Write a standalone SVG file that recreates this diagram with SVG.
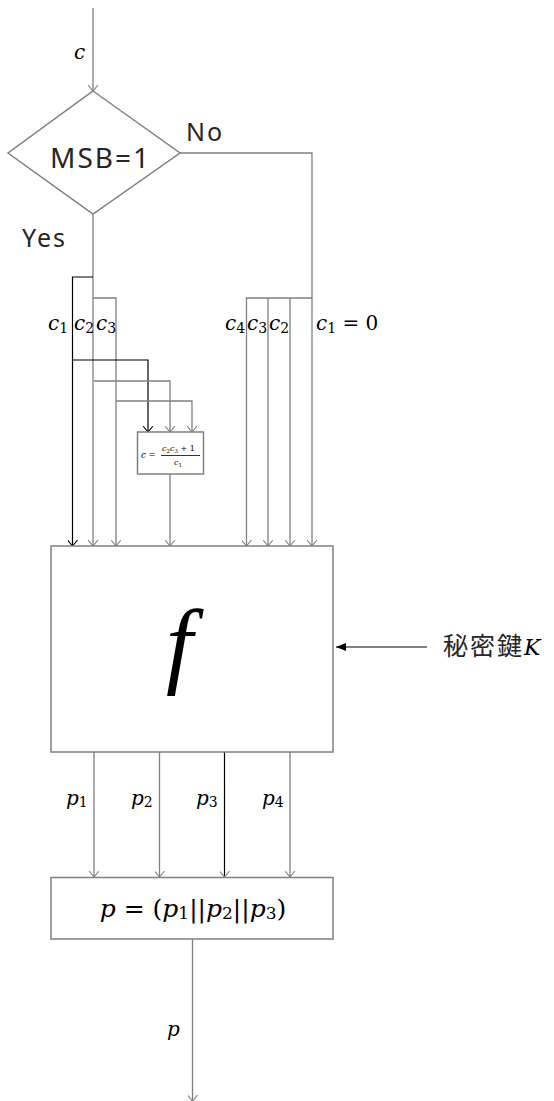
<svg xmlns="http://www.w3.org/2000/svg" width="554" height="1101" viewBox="0 0 554 1101">
<style>
.g{stroke:#808080;stroke-width:1.3;fill:none}
.k{stroke:#000;stroke-width:1.2;fill:none}
.box{stroke:#808080;stroke-width:1.5;fill:#fff}
.sans{font-family:"Noto Sans","Liberation Sans",sans-serif;fill:#262626;letter-spacing:2px}
.m{font-family:"DejaVu Serif","Liberation Serif",serif;font-style:italic;fill:#000}
.f{font-family:"Liberation Serif","DejaVu Serif",serif;font-style:italic;fill:#000}
.sub{font-style:normal}
.cjk{font-family:"Noto Sans CJK JP","Noto Sans CJK SC",sans-serif;fill:#262626}
</style>
<defs>
<marker id="av" viewBox="0 0 6 10" refX="6" refY="5" markerWidth="6" markerHeight="10" markerUnits="userSpaceOnUse" orient="auto">
<path d="M0,0 L6,5 L0,10" fill="none" stroke="#808080" stroke-width="1.1"/>
</marker>
<marker id="avk" viewBox="0 0 6 10" refX="6" refY="5" markerWidth="6" markerHeight="10" markerUnits="userSpaceOnUse" orient="auto">
<path d="M0,0 L6,5 L0,10" fill="none" stroke="#000" stroke-width="1.1"/>
</marker>
<marker id="af" viewBox="0 0 10 8" refX="10" refY="4" markerWidth="10" markerHeight="8" markerUnits="userSpaceOnUse" orient="auto">
<path d="M0,0 L10,4 L0,8 Z" fill="#000"/>
</marker>
</defs>

<g id="connectors">
<line class="g" x1="93" y1="8" x2="93" y2="91" marker-end="url(#av)"/>
<line class="g" x1="93" y1="214" x2="93" y2="546" marker-end="url(#av)"/>
<polyline class="k" points="93,277 72.5,277 72.5,546" marker-end="url(#avk)"/>
<polyline class="g" points="93,298 116,298 116,546" marker-end="url(#av)"/>
<polyline class="k" points="72.5,360 148,360 148,432" marker-end="url(#avk)"/>
<polyline class="g" points="94,381 170,381 170,432" marker-end="url(#av)"/>
<polyline class="g" points="116,401 192,401 192,432" marker-end="url(#av)"/>
<line class="g" x1="170" y1="474" x2="170" y2="546" marker-end="url(#av)"/>
<polyline class="g" points="180,153 312,153 312,546" marker-end="url(#av)"/>
<polyline class="g" points="312,298 246.5,298 246.5,546" marker-end="url(#av)"/>
<line class="g" x1="268" y1="298" x2="268" y2="546" marker-end="url(#av)"/>
<line class="g" x1="290" y1="298" x2="290" y2="546" marker-end="url(#av)"/>
<line class="k" x1="427" y1="647" x2="336" y2="647" marker-end="url(#af)"/>
<line class="g" x1="94" y1="752" x2="94" y2="877" marker-end="url(#av)"/>
<line class="g" x1="159.5" y1="752" x2="159.5" y2="877" marker-end="url(#av)"/>
<line class="k" x1="224.5" y1="752" x2="224.5" y2="877" marker-end="url(#av)"/>
<line class="g" x1="290" y1="752" x2="290" y2="877" marker-end="url(#av)"/>
<line class="g" x1="192.5" y1="939" x2="192.5" y2="1101" marker-end="url(#av)"/>
</g>

<g id="label-c"><text class="m" x="74" y="59" font-size="20">c</text></g>

<g id="decision">
<polygon class="box" points="93,91 180,153 93,214 8,153"/>
<text class="sans" x="50" y="168" font-size="28">MSB=1</text>
</g>
<g id="label-no"><text class="sans" x="186" y="141" font-size="25">No</text></g>
<g id="label-yes"><text class="sans" x="22" y="247" font-size="25">Yes</text></g>

<g id="labels-c-left">
<text class="m" x="48" y="330" font-size="20">c<tspan class="sub" font-size="14" dy="3">1</tspan></text>
<text class="m" x="74" y="330" font-size="20">c<tspan class="sub" font-size="14" dy="3">2</tspan></text>
<text class="m" x="96" y="330" font-size="20">c<tspan class="sub" font-size="14" dy="3">3</tspan></text>
</g>
<g id="labels-c-right">
<text class="m" x="225" y="330" font-size="20">c<tspan class="sub" font-size="14" dy="3">4</tspan></text>
<text class="m" x="247" y="330" font-size="20">c<tspan class="sub" font-size="14" dy="3">3</tspan></text>
<text class="m" x="269" y="330" font-size="20">c<tspan class="sub" font-size="14" dy="3">2</tspan></text>
<text class="m" x="316" y="330" font-size="20">c<tspan class="sub" font-size="14" dy="3">1</tspan><tspan class="sub" dy="-3" font-size="20"> = 0</tspan></text>
</g>

<g id="formula-box">
<rect class="box" x="137.5" y="432" width="66" height="42"/>
<text class="m" x="141" y="458" font-size="8.5">c <tspan class="sub">=</tspan></text>
<text class="m" x="162" y="451" font-size="8" fill="#555">c<tspan class="sub" font-size="5.5" dy="1.5">2</tspan><tspan dy="-1.5">c</tspan><tspan class="sub" font-size="5.5" dy="1.5">3</tspan><tspan class="sub" dy="-1.5"> + 1</tspan></text>
<line x1="161" y1="455.5" x2="200" y2="455.5" stroke="#000" stroke-width="0.8"/>
<text class="m" x="174" y="465" font-size="8" fill="#555">c<tspan class="sub" font-size="5.5" dy="1.5">1</tspan></text>
</g>

<g id="f-box">
<rect class="box" x="51" y="546" width="282" height="206"/>
<text class="f" x="166" y="676" font-size="96">f</text>
</g>

<g id="key-label"><text class="cjk" x="443" y="655" font-size="25" letter-spacing="2">秘密鍵<tspan class="m" font-size="22" letter-spacing="0">K</tspan></text></g>

<g id="labels-p">
<text class="m" x="66" y="805" font-size="20">p<tspan class="sub" font-size="14" dy="2">1</tspan></text>
<text class="m" x="131" y="805" font-size="20">p<tspan class="sub" font-size="14" dy="2">2</tspan></text>
<text class="m" x="196" y="805" font-size="20">p<tspan class="sub" font-size="14" dy="2">3</tspan></text>
<text class="m" x="262" y="805" font-size="20">p<tspan class="sub" font-size="14" dy="2">4</tspan></text>
</g>

<g id="concat-box">
<rect class="box" x="51" y="877.5" width="282" height="61.5"/>
<text class="m" x="193" y="917" font-size="25" text-anchor="middle">p<tspan class="sub"> = (</tspan>p<tspan class="sub" font-size="17" dy="2">1</tspan><tspan class="sub" dy="-2">||</tspan>p<tspan class="sub" font-size="17" dy="2">2</tspan><tspan class="sub" dy="-2">||</tspan>p<tspan class="sub" font-size="17" dy="2">3</tspan><tspan class="sub" dy="-2">)</tspan></text>
</g>

<g id="label-p"><text class="m" x="167" y="1036" font-size="20">p</text></g>
</svg>
